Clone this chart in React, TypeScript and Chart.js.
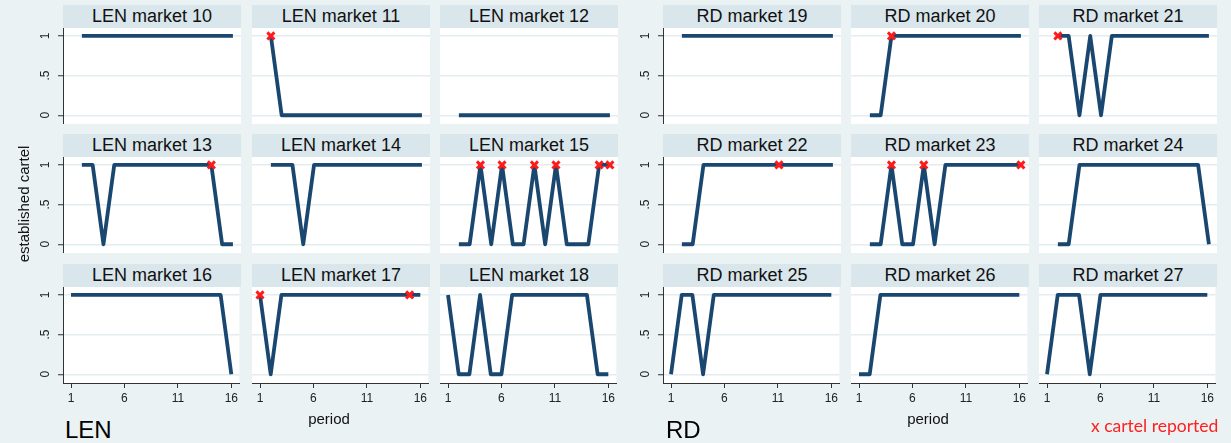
import React, { useEffect, useRef } from "react";
import { Chart, registerables } from "chart.js";

Chart.register(...registerables);

// ---------- data ----------
const periods = [1, 2, 3, 4, 5, 6, 7, 8, 9, 10, 11, 12, 13, 14, 15, 16];
const xTickValues = [1, 6, 11, 16];
const yTickValues = [0, 0.5, 1];
const yTickLabels = ["0", ".5", "1"];

const len10 = [null, 1, 1, 1, 1, 1, 1, 1, 1, 1, 1, 1, 1, 1, 1, 1];
const len11 = [null, 1, 0, 0, 0, 0, 0, 0, 0, 0, 0, 0, 0, 0, 0, 0];
const len12 = [null, 0, 0, 0, 0, 0, 0, 0, 0, 0, 0, 0, 0, 0, 0, 0];
const len13 = [null, 1, 1, 0, 1, 1, 1, 1, 1, 1, 1, 1, 1, 1, 0, 0];
const len14 = [null, 1, 1, 1, 0, 1, 1, 1, 1, 1, 1, 1, 1, 1, 1, 1];
const len15 = [null, 0, 0, 1, 0, 1, 0, 0, 1, 0, 1, 0, 0, 0, 1, 1];
const len16 = [1, 1, 1, 1, 1, 1, 1, 1, 1, 1, 1, 1, 1, 1, 1, 0];
const len17 = [1, 0, 1, 1, 1, 1, 1, 1, 1, 1, 1, 1, 1, 1, 1, 1];
const len18 = [1, 0, 0, 1, 0, 0, 1, 1, 1, 1, 1, 1, 1, 1, 0, 0];

const rd19 = [null, 1, 1, 1, 1, 1, 1, 1, 1, 1, 1, 1, 1, 1, 1, 1];
const rd20 = [null, 0, 0, 1, 1, 1, 1, 1, 1, 1, 1, 1, 1, 1, 1, 1];
const rd21 = [null, 1, 1, 0, 1, 0, 1, 1, 1, 1, 1, 1, 1, 1, 1, 1];
const rd22 = [null, 0, 0, 1, 1, 1, 1, 1, 1, 1, 1, 1, 1, 1, 1, 1];
const rd23 = [null, 0, 0, 1, 0, 0, 1, 0, 1, 1, 1, 1, 1, 1, 1, 1];
const rd24 = [null, 0, 0, 1, 1, 1, 1, 1, 1, 1, 1, 1, 1, 1, 1, 0];
const rd25 = [0, 1, 1, 0, 1, 1, 1, 1, 1, 1, 1, 1, 1, 1, 1, 1];
const rd26 = [0, 0, 1, 1, 1, 1, 1, 1, 1, 1, 1, 1, 1, 1, 1, 1];
const rd27 = [0, 1, 1, 1, 0, 1, 1, 1, 1, 1, 1, 1, 1, 1, 1, 1];

// periods in which a cartel was reported
const len11Reported = [2];
const len13Reported = [14];
const len15Reported = [4, 6, 9, 11, 15, 16];
const len17Reported = [1, 15];
const rd20Reported = [4];
const rd21Reported = [2];
const rd22Reported = [11];
const rd23Reported = [4, 7, 16];

const lenTitles = ["LEN market 10", "LEN market 11", "LEN market 12", "LEN market 13", "LEN market 14", "LEN market 15", "LEN market 16", "LEN market 17", "LEN market 18"];
const rdTitles = ["RD market 19", "RD market 20", "RD market 21", "RD market 22", "RD market 23", "RD market 24", "RD market 25", "RD market 26", "RD market 27"];
const lenValues = [len10, len11, len12, len13, len14, len15, len16, len17, len18];
const rdValues = [rd19, rd20, rd21, rd22, rd23, rd24, rd25, rd26, rd27];
const lenReported = [[], len11Reported, [], len13Reported, [], len15Reported, [], len17Reported, []];
const rdReported = [[], rd20Reported, rd21Reported, rd22Reported, rd23Reported, [], [], [], []];

// ---------- layout ----------
const BG = "#eaf2f3";
const TITLE_BG = "#d9e6eb";
const LINE = "#1a476f";
const FONT = "'Liberation Sans', Arial, sans-serif";
const LEN_COLS = [63, 252, 440];
const RD_COLS = [663, 851, 1039];
const ROWS = [5, 134, 264];
const PLOT_W = 178;
const TITLE_H = 23;
const PLOT_H = 96;
const Y_AXIS_W = 40;
const X_AXIS_H = 30;

type MiniProps = {
  title: string;
  values: (number | null)[];
  reported: number[];
  left: number;
  top: number;
  showY: boolean;
  showX: boolean;
};

function MiniChart({ title, values, reported, left, top, showY, showX }: MiniProps) {
  const ref = useRef<HTMLCanvasElement | null>(null);
  const cw = PLOT_W + (showY ? Y_AXIS_W : 0);
  const ch = PLOT_H + (showX ? X_AXIS_H : 0);

  useEffect(() => {
    if (!ref.current) return;
    const whiteArea = {
      id: "whiteArea",
      beforeDraw(chart: any) {
        const a = chart.chartArea;
        const c = chart.ctx;
        c.save();
        c.fillStyle = "#ffffff";
        c.fillRect(a.left, a.top, a.right - a.left, a.bottom - a.top);
        c.restore();
      },
    };
    const yLabels = {
      id: "yLabels",
      afterDraw(chart: any) {
        if (!showY) return;
        const s = chart.scales.y;
        const c = chart.ctx;
        c.save();
        c.fillStyle = "#222";
        c.font = `12px ${FONT}`;
        c.textAlign = "center";
        c.textBaseline = "middle";
        yTickValues.forEach((v, i) => {
          const y = s.getPixelForValue(v);
          c.save();
          c.translate(chart.chartArea.left - 17, y);
          c.rotate(-Math.PI / 2);
          c.fillText(yTickLabels[i], 0, 0);
          c.restore();
        });
        c.restore();
      },
    };
    const chart = new Chart(ref.current, {
      type: "line",
      data: {
        datasets: [
          {
            data: reported.map((p) => ({ x: p, y: values[p - 1] as number })),
            showLine: false,
            pointStyle: "crossRot",
            pointRadius: 5,
            pointBorderWidth: 3,
            pointBorderColor: "#ff1a1a",
            pointBackgroundColor: "#ff1a1a",
            clip: false,
          } as any,
          {
            data: periods.map((p, i) => ({ x: p, y: values[i] as any })),
            borderColor: LINE,
            borderWidth: 3.8,
            pointRadius: 0,
            tension: 0,
            borderJoinStyle: "round",
            spanGaps: false,
          } as any,
        ],
      },
      options: {
        animation: false,
        responsive: false,
        events: [],
        layout: { padding: 0, autoPadding: false },
        plugins: { legend: { display: false }, tooltip: { enabled: false }, title: { display: false } },
        scales: {
          x: {
            type: "linear",
            min: 0.25,
            max: 16.75,
            afterBuildTicks: (s: any) => {
              s.ticks = xTickValues.map((v) => ({ value: v }));
            },
            afterFit: (s: any) => {
              s.height = showX ? X_AXIS_H : 0;
            },
            grid: { display: showX, drawOnChartArea: false, drawTicks: true, tickLength: 5, color: "#333", lineWidth: 1 },
            border: { display: showX, color: "#333", width: 1 },
            ticks: {
              display: showX,
              color: "#222",
              font: { size: 12, family: FONT },
              padding: 3,
              maxRotation: 0,
              minRotation: 0,
              autoSkip: false,
              callback: (v: any) => String(v),
            },
          },
          y: {
            type: "linear",
            min: -0.11,
            max: 1.1,
            afterBuildTicks: (s: any) => {
              s.ticks = yTickValues.map((v) => ({ value: v }));
            },
            afterFit: (s: any) => {
              s.width = showY ? Y_AXIS_W : 0;
            },
            grid: { color: "#e3ecef", lineWidth: 1.5, drawTicks: showY, tickLength: 5, tickColor: "#333", tickWidth: 1 },
            border: { display: showY, color: "#333", width: 1 },
            ticks: { display: false },
          },
        },
      } as any,
      plugins: [whiteArea, yLabels],
    });
    return () => chart.destroy();
  }, []);

  return (
    <>
      <div
        style={{
          position: "absolute",
          left,
          top,
          width: PLOT_W,
          height: TITLE_H,
          background: TITLE_BG,
          color: "#111",
          font: `18px ${FONT}`,
          lineHeight: `${TITLE_H}px`,
          textAlign: "center",
        }}
      >
        {title}
      </div>
      <canvas
        ref={ref}
        width={cw}
        height={ch}
        style={{ position: "absolute", left: left - (showY ? Y_AXIS_W : 0), top: top + TITLE_H, width: cw, height: ch }}
      />
    </>
  );
}

function Panel({ titles, values, reported, cols }: { titles: string[]; values: (number | null)[][]; reported: number[][]; cols: number[] }) {
  return (
    <>
      {titles.map((t, i) => {
        const r = Math.floor(i / 3);
        const c = i % 3;
        return (
          <MiniChart
            key={t}
            title={t}
            values={values[i]}
            reported={reported[i]}
            left={cols[c]}
            top={ROWS[r]}
            showY={c === 0}
            showX={r === 2}
          />
        );
      })}
    </>
  );
}

export default function App() {
  return (
    <div style={{ position: "absolute", left: 0, top: 0, width: 1231, height: 443, background: BG, overflow: "hidden", fontFamily: FONT }}>
      <Panel titles={lenTitles} values={lenValues} reported={lenReported} cols={LEN_COLS} />
      <Panel titles={rdTitles} values={rdValues} reported={rdReported} cols={RD_COLS} />
      <div
        style={{
          position: "absolute",
          left: 24 - 100,
          top: 204 - 9,
          width: 200,
          height: 18,
          lineHeight: "18px",
          textAlign: "center",
          font: `15px ${FONT}`,
          color: "#111",
          transform: "rotate(-90deg)",
        }}
      >
        established cartel
      </div>
      <div style={{ position: "absolute", left: 329 - 50, top: 410, width: 100, lineHeight: "18px", textAlign: "center", font: `15px ${FONT}`, color: "#111" }}>
        period
      </div>
      <div style={{ position: "absolute", left: 928 - 50, top: 410, width: 100, lineHeight: "18px", textAlign: "center", font: `15px ${FONT}`, color: "#111" }}>
        period
      </div>
      <div style={{ position: "absolute", left: 65, top: 416, lineHeight: "24px", font: `24px ${FONT}`, color: "#000" }}>LEN</div>
      <div style={{ position: "absolute", left: 666, top: 416, lineHeight: "24px", font: `24px ${FONT}`, color: "#000" }}>RD</div>
      <div style={{ position: "absolute", left: 1091, top: 415, lineHeight: "20px", font: `17.5px Lato, 'Open Sans', sans-serif`, color: "#ff2020", whiteSpace: "nowrap" }}>
        x cartel reported
      </div>
    </div>
  );
}
